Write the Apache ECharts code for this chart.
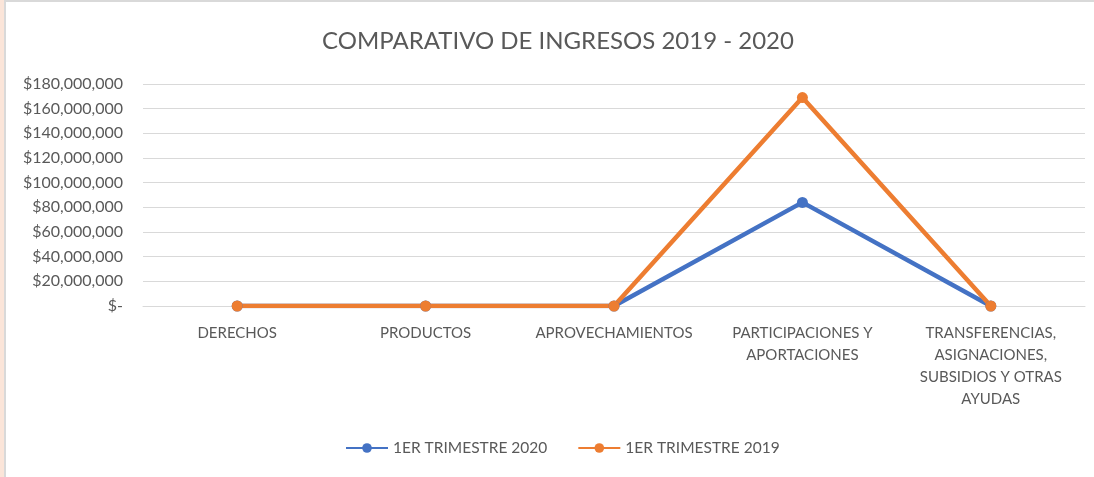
<!DOCTYPE html>
<html>
<head>
<meta charset="utf-8">
<script src="https://cdn.jsdelivr.net/npm/echarts@6/dist/echarts.min.js"></script>
<style>
  html, body { margin: 0; padding: 0; background: #fbe5d9; }
  #frame { position: absolute; left: 4px; top: 0; width: 1090px; height: 477px; background: #fff;
           border-left: 2px solid #d9d9d9; border-top: 2px solid #d9d9d9; box-sizing: border-box; }
  #chart { position: absolute; left: 0; top: 0; width: 1094px; height: 477px; }
</style>
</head>
<body>
<div id="frame"></div>
<div id="chart"></div>
<script>
const categories = [
  'DERECHOS',
  'PRODUCTOS',
  'APROVECHAMIENTOS',
  'PARTICIPACIONES Y\nAPORTACIONES',
  'TRANSFERENCIAS,\nASIGNACIONES,\nSUBSIDIOS Y OTRAS\nAYUDAS'
];
const trimestre2020 = [0, 0, 0, 84000000, 0];
const trimestre2019 = [0, 0, 0, 169000000, 0];

const textColor = '#595959';
const fontFamily = 'Lato, "Open Sans", sans-serif';

const chart = echarts.init(document.getElementById('chart'));
chart.setOption({
  animation: false,
  backgroundColor: 'transparent',
  title: {
    text: 'COMPARATIVO DE INGRESOS 2019 - 2020',
    left: 317,
    top: 24,
    textStyle: { color: textColor, fontSize: 24, fontWeight: 'normal', fontFamily: fontFamily }
  },
  legend: {
    bottom: 16,
    left: 340,
    itemWidth: 42,
    itemHeight: 12,
    itemGap: 30,
    textStyle: { color: textColor, fontSize: 15.5, fontFamily: fontFamily }
  },
  grid: { left: 143, right: 9, top: 84, bottom: 171 },
  xAxis: {
    type: 'category',
    data: categories,
    boundaryGap: true,
    axisLine: { show: true, lineStyle: { color: '#d9d9d9' } },
    axisTick: { show: false },
    axisLabel: {
      color: textColor, fontSize: 15, fontFamily: fontFamily,
      lineHeight: 22, margin: 16, interval: 0
    }
  },
  yAxis: {
    type: 'value',
    min: 0,
    max: 180000000,
    interval: 20000000,
    axisLine: { show: false },
    axisTick: { show: false },
    splitLine: { lineStyle: { color: '#d9d9d9', width: 1 } },
    axisLabel: {
      color: textColor, fontSize: 16, fontFamily: fontFamily, margin: 20,
      formatter: function (v) {
        if (v === 0) return '$-';
        return '$' + v.toLocaleString('en-US');
      }
    }
  },
  series: [
    {
      name: '1ER TRIMESTRE 2020',
      type: 'line',
      data: trimestre2020,
      color: '#4472C4',
      symbol: 'circle',
      symbolSize: 11,
      lineStyle: { width: 4.5 }
    },
    {
      name: '1ER TRIMESTRE 2019',
      type: 'line',
      data: trimestre2019,
      color: '#ED7D31',
      symbol: 'circle',
      symbolSize: 11,
      lineStyle: { width: 4.5 }
    }
  ]
});
</script>
</body>
</html>
